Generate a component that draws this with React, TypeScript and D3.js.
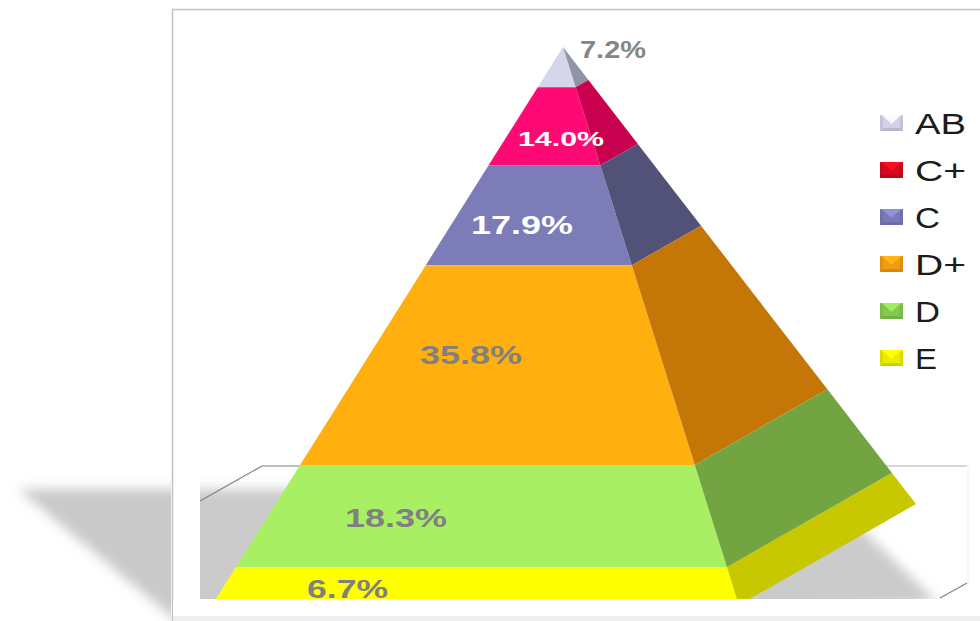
import React from "react";
import * as d3 from "d3";

// Grade shares, top of the pyramid first
const grades = ["AB", "C+", "C", "D+", "D", "E"];
const shares = [7.2, 14.0, 17.9, 35.8, 18.3, 6.7];
const shareLabels = ["7.2%", "14.0%", "17.9%", "35.8%", "18.3%", "6.7%"];

const frontColors = ["#d5d6ea", "#ff0a74", "#7c7cb8", "#ffb00f", "#a9ef64", "#ffff00"];
const sideColors = ["#8f94a6", "#c9004e", "#525278", "#c47607", "#73a442", "#c8c800"];
const legendColors = ["#d2d2e6", "#d40a20", "#7a7ab8", "#f29a10", "#84c850", "#ecec00"];

// Label placement: text anchor x, baseline y, font size, stretched width, fill
const labelBoxes = [
  { x: 580, y: 58, size: 23, w: 66, fill: "#858585" },
  { x: 518, y: 146, size: 21, w: 86, fill: "#ffffff" },
  { x: 471, y: 234, size: 25, w: 102, fill: "#ffffff" },
  { x: 420, y: 364, size: 25, w: 102, fill: "#808080" },
  { x: 345, y: 527, size: 25, w: 102, fill: "#808080" },
  { x: 307, y: 598, size: 25, w: 81, fill: "#808080" },
];

const cumulative = d3.cumsum(shares);
const total = 100;

// Every edge of the pyramid runs from the apex to a base corner
const apex = { x: 563, y: 47 };
const frontY = d3.scaleLinear().domain([0, total]).range([apex.y, 605]);
const sideY = d3.scaleLinear().domain([0, total]).range([apex.y, 504]);
const leftX = d3.scaleLinear().domain([0, total]).range([apex.x, 212]);
const midX = d3.scaleLinear().domain([0, total]).range([apex.x, 739]);
const rightX = d3.scaleLinear().domain([0, total]).range([apex.x, 916]);

const line = d3.line<[number, number]>();
const closed = (pts: [number, number][]) => line(pts) + "Z";

const legendY = d3.scalePoint<string>().domain(grades).range([123, 358]);

const font = "'Liberation Sans', Arial, sans-serif";

// Bevelled legend key: lit top, shaded sides and bottom
function Swatch({ cy, color }: { cy: number; color: string }) {
  const x0 = 880, x1 = 903, y0 = cy - 8, y1 = cy + 8;
  const cx = (x0 + x1) / 2;
  const light = d3.color(color)!.brighter(0.5).formatHex();
  const dark = d3.color(color)!.darker(0.35).formatHex();
  return (
    <g>
      <rect x={x0} y={y0} width={x1 - x0} height={y1 - y0} fill={color} />
      <path d={closed([[x0 + 2, y0], [x1 - 2, y0], [cx, cy + 1]])} fill={light} />
      <path d={closed([[x0, y0], [x0 + 3, y0 + 3], [x0 + 3, y1 - 3], [x0, y1]])} fill={dark} opacity={0.6} />
      <path d={closed([[x1, y0], [x1 - 3, y0 + 3], [x1 - 3, y1 - 3], [x1, y1]])} fill={dark} opacity={0.6} />
      <path d={closed([[x0, y1], [x1, y1], [x1 - 3, y1 - 3], [x0 + 3, y1 - 3]])} fill={dark} />
    </g>
  );
}

export default function App() {
  return (
    <svg
      width={980}
      height={621}
      viewBox="0 0 980 621"
      style={{ position: "absolute", left: 0, top: 0, background: "#fff" }}
    >
      <defs>
        <filter id="soft" x="-20%" y="-20%" width="140%" height="140%">
          <feGaussianBlur stdDeviation="6" />
        </filter>
        <clipPath id="outside"><rect x={0} y={0} width={171} height={621} /></clipPath>
        <clipPath id="floor"><rect x={200} y={466} width={768} height={133} /></clipPath>
        <clipPath id="plot"><rect x={173} y={10} width={807} height={589} /></clipPath>
      </defs>

      {/* Drop shadow falling to the left of the frame */}
      <g clipPath="url(#outside)">
        <path d={closed([[18, 489], [190, 489], [190, 632]])} fill="#c9c9c9" filter="url(#soft)" />
      </g>

      {/* Frame */}
      <rect x={172.5} y={9.5} width={830} height={640} fill="#fff" stroke="#c2c2c2" strokeWidth={1.5} />
      <rect x={173} y={616} width={807} height={5} fill="#eeeeee" />

      {/* Floor plane with the pyramid's shadow */}
      <g clipPath="url(#floor)">
        <path
          d={closed([[180, 489], [850, 489], [850, 518], [938, 603], [780, 612], [205, 612], [180, 612]])}
          fill="#cbcbcb"
          filter="url(#soft)"
        />
      </g>
      <rect x={173} y={599} width={807} height={17} fill="#fff" />
      <path d="M200,501L262,466L300,466" fill="none" stroke="#808080" strokeWidth={1.2} />
      <path d="M885,466L967,466" fill="none" stroke="#b0b0b0" strokeWidth={1} />
      <path d="M940,598L967,583" fill="none" stroke="#808080" strokeWidth={1.2} />
      <path d="M968,466L968,583" fill="none" stroke="#f0f0f0" strokeWidth={1} />

      {/* Pyramid tiers, cut off at the bottom of the plot */}
      <g clipPath="url(#plot)">
        {shares.map((_, i) => {
          const a = i === 0 ? 0 : cumulative[i - 1];
          const b = i === shares.length - 1 ? total : cumulative[i];
          return (
            <g key={grades[i]}>
              <path
                d={closed([
                  [leftX(a), frontY(a)],
                  [midX(a), frontY(a)],
                  [midX(b), frontY(b)],
                  [leftX(b), frontY(b)],
                ])}
                fill={frontColors[i]}
              />
              <path
                d={closed([
                  [midX(a), frontY(a)],
                  [rightX(a), sideY(a)],
                  [rightX(b), sideY(b)],
                  [midX(b), frontY(b)],
                ])}
                fill={sideColors[i]}
              />
            </g>
          );
        })}
      </g>

      {/* Share labels */}
      <g fontFamily={font} fontWeight="bold">
        {shareLabels.map((s, i) => (
          <text
            key={s}
            x={labelBoxes[i].x}
            y={labelBoxes[i].y}
            fontSize={labelBoxes[i].size}
            fill={labelBoxes[i].fill}
            textLength={labelBoxes[i].w}
            lengthAdjust="spacingAndGlyphs"
          >
            {s}
          </text>
        ))}
      </g>

      {/* Legend */}
      {grades.map((g, i) => (
        <g key={g}>
          <Swatch cy={legendY(g)!} color={legendColors[i]} />
          <text
            x={915}
            y={legendY(g)! + 11}
            fontFamily={font}
            fontSize={29}
            fill="#1c1c1c"
            textLength={g.length === 2 ? 51 : g === "E" ? 22 : 25}
            lengthAdjust="spacingAndGlyphs"
          >
            {g}
          </text>
        </g>
      ))}
    </svg>
  );
}
